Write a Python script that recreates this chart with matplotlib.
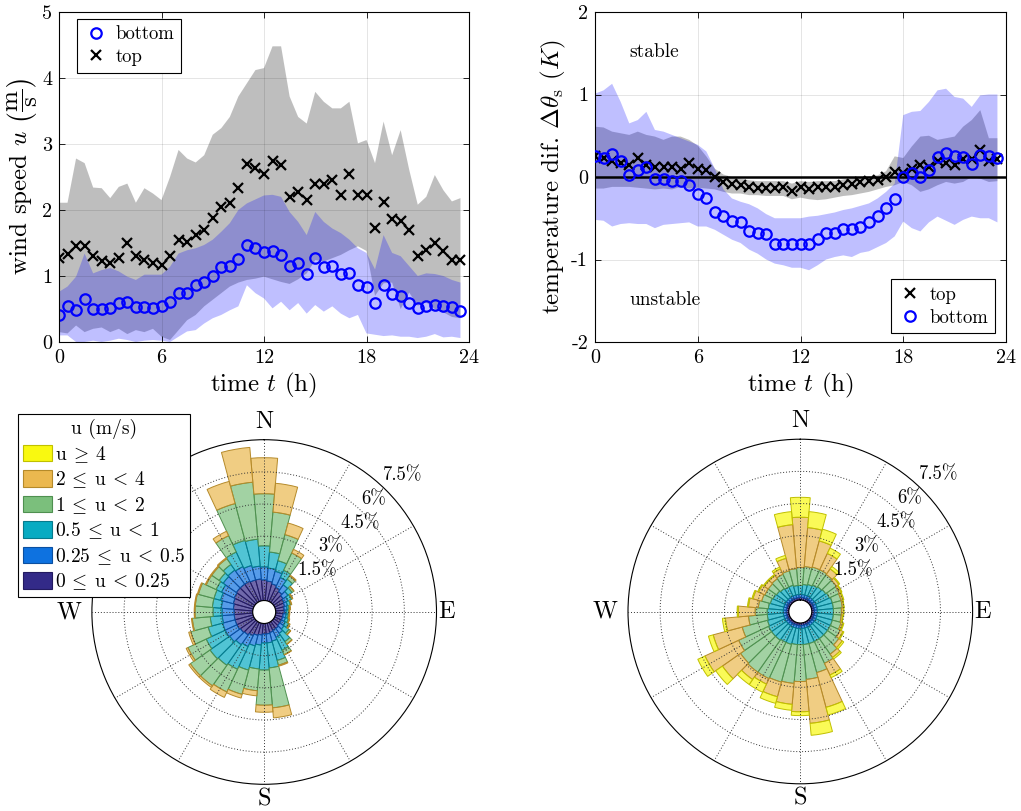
import numpy as np
import matplotlib
matplotlib.use('Agg')
import matplotlib.pyplot as plt
from matplotlib.patches import Patch
from matplotlib.colors import to_rgba

plt.rcParams['font.family'] = 'cmr10'
plt.rcParams['mathtext.fontset'] = 'cm'
plt.rcParams['axes.unicode_minus'] = False

# ---------------- data: diurnal cycle (top-left) ----------------
t = np.arange(0, 24, 0.5)
ws_top = [1.27,1.33,1.45,1.45,1.30,1.22,1.20,1.27,1.50,1.30,1.25,1.20,1.17,1.30,1.55,1.52,
          1.62,1.70,1.88,2.05,2.10,2.33,2.70,2.63,2.55,2.75,2.68,2.20,2.28,2.15,2.40,2.40,
          2.45,2.22,2.55,2.22,2.22,1.72,2.12,1.87,1.83,1.70,1.30,1.40,1.50,1.38,1.25,1.25]
ws_bot = [0.41,0.54,0.49,0.65,0.50,0.50,0.51,0.59,0.61,0.53,0.53,0.51,0.55,0.61,0.74,0.75,
          0.87,0.91,1.00,1.13,1.15,1.26,1.47,1.43,1.37,1.38,1.32,1.15,1.19,1.03,1.27,1.14,
          1.15,1.03,1.05,0.87,0.83,0.59,0.86,0.73,0.70,0.59,0.51,0.54,0.56,0.55,0.53,0.47]
ws_top_hi = [2.11,2.11,2.78,2.71,2.34,2.33,2.18,2.35,2.40,2.11,2.33,2.25,2.15,2.50,2.91,2.78,
             2.72,2.83,3.14,3.24,3.41,3.72,3.92,4.12,4.15,4.48,4.48,3.72,3.41,3.31,3.79,3.64,
             3.54,3.54,3.64,3.01,3.06,2.71,3.34,2.83,3.21,2.61,2.08,2.20,2.53,2.30,2.13,2.18]
ws_top_lo = [0.15,0.13,0.25,0.15,0.20,0.22,0.15,0.20,0.12,0.18,0.15,0.20,0.08,0.03,0.18,0.33,
             0.41,0.54,0.64,0.74,0.84,0.90,0.94,0.96,0.99,0.95,0.91,0.88,0.95,1.04,1.24,1.22,
             1.27,1.32,1.39,1.45,1.38,0.70,0.89,0.90,0.50,0.75,0.55,0.60,0.50,0.45,0.38,0.36]
ws_bot_hi = [0.76,0.84,0.99,1.34,1.04,1.09,1.12,1.07,0.99,0.94,1.02,1.02,1.02,1.14,1.34,1.39,
             1.42,1.47,1.55,1.67,1.80,2.00,2.10,2.16,2.22,2.23,2.20,1.97,1.82,1.62,1.97,1.82,
             1.72,1.65,1.55,1.42,1.35,1.10,1.62,1.35,1.30,1.15,1.00,1.04,1.03,1.00,0.94,0.90]
ws_bot_lo = [0.10,0.10,0.00,0.00,0.02,0.00,0.02,0.05,0.03,0.00,0.02,0.03,0.02,0.00,0.08,0.16,
             0.18,0.28,0.36,0.41,0.48,0.54,0.86,0.74,0.66,0.51,0.61,0.48,0.59,0.43,0.56,0.46,
             0.54,0.43,0.36,0.41,0.13,0.11,0.09,0.10,0.08,0.08,0.06,0.08,0.12,0.07,0.08,0.06]

# ---------------- data: temperature difference (top-right) ----------------
dT_top = [0.25,0.23,0.20,0.17,0.15,0.23,0.15,0.12,0.12,0.12,0.10,0.17,0.10,0.08,0.00,-0.06,
          -0.08,-0.10,-0.12,-0.13,-0.13,-0.13,-0.12,-0.17,-0.125,-0.14,-0.12,-0.125,-0.125,-0.10,-0.08,-0.065,
          -0.05,-0.035,0.00,0.065,0.045,0.10,0.145,0.12,0.19,0.165,0.145,0.22,0.22,0.33,0.20,0.22]
dT_bot = [0.25,0.23,0.28,0.20,0.03,0.08,0.12,-0.03,-0.03,-0.05,-0.05,-0.10,-0.20,-0.26,-0.43,-0.47,
          -0.53,-0.55,-0.66,-0.68,-0.69,-0.81,-0.81,-0.81,-0.81,-0.81,-0.75,-0.68,-0.68,-0.63,-0.63,-0.60,
          -0.54,-0.47,-0.37,-0.27,0.00,0.05,0.00,0.08,0.24,0.29,0.26,0.24,0.16,0.27,0.26,0.23]
dT_top_hi = [0.61,0.60,0.55,0.53,0.51,0.55,0.51,0.49,0.45,0.49,0.49,0.45,0.38,0.25,0.10,0.03,
             0.00,-0.02,-0.04,-0.05,-0.05,-0.05,-0.05,-0.08,-0.05,-0.06,-0.05,-0.05,-0.05,-0.03,-0.01,0.00,
             0.01,0.02,0.07,0.25,0.23,0.37,0.49,0.50,0.45,0.47,0.49,0.61,0.69,0.81,0.47,0.47]
dT_top_lo = [-0.14,-0.14,-0.12,-0.12,-0.12,-0.13,-0.14,-0.15,-0.14,-0.15,-0.12,-0.14,-0.13,-0.14,-0.15,-0.18,
             -0.20,-0.20,-0.22,-0.22,-0.23,-0.23,-0.23,-0.27,-0.25,-0.27,-0.28,-0.27,-0.25,-0.23,-0.22,-0.20,
             -0.18,-0.15,-0.12,-0.10,-0.06,-0.10,-0.18,-0.15,-0.10,-0.06,-0.08,-0.06,0.00,-0.02,-0.06,-0.05]
dT_bot_hi = [1.01,1.05,1.13,0.91,0.65,0.69,0.79,0.57,0.55,0.51,0.47,0.43,0.39,0.31,0.10,-0.15,
             -0.26,-0.30,-0.33,-0.38,-0.45,-0.50,-0.50,-0.50,-0.50,-0.48,-0.47,-0.45,-0.43,-0.40,-0.38,-0.35,
             -0.32,-0.26,-0.18,-0.08,0.75,0.79,0.80,0.91,1.05,1.07,0.97,0.95,0.85,0.99,1.00,1.00]
dT_bot_lo = [-0.52,-0.53,-0.60,-0.57,-0.56,-0.57,-0.57,-0.62,-0.58,-0.57,-0.56,-0.55,-0.60,-0.60,-0.64,-0.70,
             -0.76,-0.80,-0.88,-0.93,-1.00,-1.05,-1.07,-1.10,-1.10,-1.13,-1.07,-1.00,-0.97,-0.95,-0.97,-0.92,
             -0.90,-0.85,-0.80,-0.72,-0.54,-0.62,-0.66,-0.55,-0.48,-0.53,-0.58,-0.52,-0.48,-0.50,-0.50,-0.55]

# ---------------- data: wind roses (cumulative frequency %, 36 sectors from N clockwise) ----------------
directions = np.arange(0, 360, 10)
speed_labels = [r'$0\:\leq\:\mathrm{u}\:<\:0.25$', r'$0.25\:\leq\:\mathrm{u}\:<\:0.5$',
                r'$0.5\:\leq\:\mathrm{u}\:<\:1$', r'$1\:\leq\:\mathrm{u}\:<\:2$',
                r'$2\:\leq\:\mathrm{u}\:<\:4$', r'$\mathrm{u}\:\geq\:4$']
L_c1 = [0.96,0.91,0.82,0.73,0.63,0.54,0.49,0.45,0.40,0.40,0.35,0.35,0.35,0.35,0.40,0.40,0.45,0.49,
        0.49,0.54,0.59,0.68,0.77,0.82,0.87,0.87,0.87,0.87,0.91,0.96,1.01,1.05,1.05,1.05,1.01,1.01]
L_c2 = [1.57,1.52,1.43,1.24,1.01,0.82,0.68,0.59,0.54,0.49,0.49,0.49,0.54,0.59,0.68,0.77,0.87,0.91,
        0.91,1.01,1.10,1.24,1.33,1.43,1.47,1.47,1.43,1.43,1.47,1.57,1.66,1.80,1.85,1.80,1.71,1.61]
L_c3 = [2.55,2.27,1.94,1.61,1.33,1.05,0.87,0.73,0.63,0.59,0.59,0.63,0.73,0.87,1.15,1.43,1.80,2.08,
        2.17,2.13,2.27,2.41,2.50,2.55,2.45,2.17,1.99,1.85,1.89,1.89,1.94,2.03,2.17,2.55,2.92,2.87]
L_c4 = [4.98,4.14,3.20,2.50,1.52,1.15,0.91,0.77,0.68,0.63,0.63,0.68,0.77,0.96,1.29,1.66,2.03,3.95,
        3.81,3.15,3.44,3.58,3.67,3.67,3.39,3.01,2.83,2.69,2.69,2.64,2.45,2.45,2.50,3.39,4.70,5.54]
L_c5 = [6.66,5.49,3.76,2.69,1.57,1.17,0.94,0.80,0.70,0.66,0.66,0.70,0.80,0.98,1.31,1.68,2.08,4.42,
        4.14,3.39,3.62,3.86,3.76,3.76,3.48,3.11,2.87,2.73,2.73,2.69,2.50,2.50,2.55,3.62,5.77,7.17]
L_c6 = [6.66,5.49,3.76,2.69,1.57,1.17,0.94,0.80,0.70,0.66,0.66,0.70,0.80,0.98,1.31,1.68,2.08,4.42,
        4.14,3.39,3.62,3.86,3.76,3.76,3.48,3.11,2.87,2.73,2.73,2.69,2.50,2.50,2.55,3.62,5.77,7.17]

R_c1 = [0.12] * 36
R_c2 = [0.26] * 36
R_c3 = [0.68,0.73,0.77,0.82,0.87,0.91,0.96,1.01,1.01,1.01,1.01,1.01,1.01,1.01,1.01,1.01,1.01,1.01,
        1.01,1.01,1.05,1.05,1.10,1.10,1.10,1.05,1.01,1.01,0.96,0.91,0.87,0.82,0.77,0.73,0.73,0.68]
R_c4 = [1.52,1.57,1.61,1.61,1.57,1.52,1.47,1.43,1.43,1.38,1.38,1.43,1.52,1.66,1.89,2.13,2.41,2.64,
        2.73,2.83,2.87,2.92,2.92,2.87,2.64,2.27,1.89,1.57,1.43,1.33,1.29,1.29,1.33,1.38,1.43,1.47]
R_c5 = [3.86,3.39,2.87,2.45,1.89,1.66,1.57,1.52,1.50,1.47,1.45,1.52,1.66,1.85,2.08,2.73,4.09,4.70,
        4.14,3.81,3.58,3.20,3.34,3.90,4.37,3.67,2.97,2.36,1.89,1.75,1.61,1.52,1.52,1.66,2.03,3.53]
R_c6 = [4.79,4.14,3.44,2.73,2.03,1.71,1.61,1.57,1.52,1.50,1.47,1.57,1.71,1.94,2.17,2.87,4.46,5.26,
        4.32,4.09,3.90,3.62,3.62,4.28,4.74,3.90,3.11,2.41,1.94,1.80,1.66,1.57,1.57,1.75,2.17,4.14]

rose_cols = ['#332a88', '#0e72e0', '#07abc2', '#7bbf7c', '#ebb84f', '#f9f910']
rose_edges = ['#231a60', '#0b4fa0', '#067a8c', '#4f9050', '#b58a2a', '#c0c000']

W, H = 1021, 811
fig = plt.figure(figsize=(W / 100, H / 100), dpi=100)

def style_ts(ax):
    ax.set_xlim(0, 24)
    ax.set_xticks([0, 6, 12, 18, 24])
    ax.set_xticklabels(['0', '6', '12', '18', '24'])
    ax.grid(True, color='k', alpha=0.12, lw=0.6)
    ax.tick_params(direction='in', top=True, right=True, length=4, width=0.6,
                   labelsize=14.5, pad=5)
    for s in ax.spines.values():
        s.set_linewidth(0.8)
    ax.set_xlabel('time $t$ (h)', fontsize=18, labelpad=3)

# ---- top-left ----
ax1 = fig.add_axes([59 / W, 1 - 342 / H, 410 / W, 330 / H])
ax1.fill_between(t, ws_top_lo, ws_top_hi, facecolor='#7f7f7f', alpha=0.5, edgecolor='none')
ax1.fill_between(t, ws_bot_lo, ws_bot_hi, facecolor='#0000ff', alpha=0.25, edgecolor='none')
ax1.plot(t, ws_bot, 'o', mfc='none', mec='#0000ff', ms=7.5, mew=1.6, label='bottom')
ax1.plot(t, ws_top, 'x', color='k', ms=6.5, mew=1.6, label='top')
style_ts(ax1)
ax1.set_ylim(0, 5)
ax1.set_yticks([0, 1, 2, 3, 4, 5])
ax1.set_yticklabels(['0', '1', '2', '3', '4', '5'])
ax1.set_ylabel(r'wind speed $u$ $\left(\dfrac{\mathrm{m}}{\mathrm{s}}\right)$', fontsize=18, labelpad=2)
leg1 = ax1.legend(loc='upper left', bbox_to_anchor=(0.044, 0.979), borderaxespad=0,
                  fancybox=False, edgecolor='k', framealpha=1, fontsize=13.5,
                  handletextpad=0.4, borderpad=0.35, labelspacing=0.25, handlelength=1.3)
leg1.get_frame().set_linewidth(0.8)

# ---- top-right ----
ax2 = fig.add_axes([595 / W, 1 - 342 / H, 411 / W, 330 / H])
ax2.fill_between(t, dT_top_lo, dT_top_hi, facecolor='#7f7f7f', alpha=0.5, edgecolor='none')
ax2.fill_between(t, dT_bot_lo, dT_bot_hi, facecolor='#0000ff', alpha=0.25, edgecolor='none')
ax2.axhline(0, color='k', lw=1.8, zorder=1.8)
ax2.plot(t, dT_top, 'x', color='k', ms=6.5, mew=1.6, label='top', zorder=3)
ax2.plot(t, dT_bot, 'o', mfc='none', mec='#0000ff', ms=7.5, mew=1.6, label='bottom', zorder=3)
style_ts(ax2)
ax2.set_ylim(-2, 2)
ax2.set_yticks([-2, -1, 0, 1, 2])
ax2.set_yticklabels(['-2', '-1', '0', '1', '2'])
ax2.set_ylabel(r'temperature dif. $\Delta\theta_{\mathrm{s}}$ $(K)$', fontsize=18, labelpad=2)
ax2.text(2.0, 1.52, 'stable', ha='left', va='center', fontsize=14)
ax2.text(2.0, -1.49, 'unstable', ha='left', va='center', fontsize=14)
leg2 = ax2.legend(loc='lower right', bbox_to_anchor=(0.973, 0.027), borderaxespad=0,
                  fancybox=False, edgecolor='k', framealpha=1, fontsize=13.5,
                  handletextpad=0.4, borderpad=0.35, labelspacing=0.25, handlelength=1.3)
leg2.get_frame().set_linewidth(0.8)

# ---- wind roses ----
rmax = 7.5
theta = np.deg2rad(directions)
width = np.deg2rad(10)

def rose(ax, cums):
    ax.set_theta_zero_location('N')
    ax.set_theta_direction(-1)
    prev = np.zeros(len(directions))
    for k, c in enumerate(cums):
        c = np.asarray(c, dtype=float)
        h = c - prev
        m = h > 1e-6
        if m.any():
            ax.bar(theta[m], h[m], width=width, bottom=prev[m], align='center',
                   facecolor=to_rgba(rose_cols[k], 0.7), edgecolor=rose_edges[k], linewidth=0.7)
        prev = c
    ax.set_ylim(0, rmax)
    ax.set_rorigin(-rmax / 14)
    ax.set_rgrids([1.5, 3, 4.5, 6], labels=[])
    ax.set_thetagrids(range(0, 360, 30), labels=[])
    ax.grid(True, color='#333333', linestyle=(0, (1, 2)), lw=0.7)
    ax.spines['polar'].set_linewidth(0.8)
    ax.spines['inner'].set_visible(False)
    for v, s in zip([1.5, 3, 4.5, 6, 7.5], ['1.5%', '3%', '4.5%', '6%', '7.5%']):
        ax.text(np.deg2rad(42), v + 0.25, s, ha='left', va='baseline', fontsize=13.5)
    ax.text(0, 8.06, 'N', ha='center', va='baseline', fontsize=17.5)
    ax.text(np.pi, 7.69, 'S', ha='center', va='top', fontsize=17.5)
    ax.text(np.pi / 2, 7.57, 'E', ha='left', va='center', fontsize=17.5)
    ax.text(3 * np.pi / 2, 8.0, 'W', ha='right', va='center', fontsize=17.5)

R = 344.6
axL = fig.add_axes([(264.2 - R / 2) / W, 1 - (612 + R / 2) / H, R / W, R / H], projection='polar')
rose(axL, [L_c1, L_c2, L_c3, L_c4, L_c5, L_c6])
axR = fig.add_axes([(800.3 - R / 2) / W, 1 - (611.5 + R / 2) / H, R / W, R / H], projection='polar')
rose(axR, [R_c1, R_c2, R_c3, R_c4, R_c5, R_c6])

handles = [Patch(facecolor=rose_cols[k], edgecolor=rose_edges[k], lw=0.8) for k in range(5, -1, -1)]
labels = [speed_labels[k] for k in range(5, -1, -1)]
legR = fig.legend(handles, labels, loc='upper left', bbox_to_anchor=(18 / W, 1 - 414 / H),
                  bbox_transform=fig.transFigure, title='u (m/s)', title_fontsize=14,
                  fontsize=14, fancybox=False, edgecolor='k', framealpha=1,
                  handlelength=1.5, handleheight=0.95, handletextpad=0.15,
                  labelspacing=0.25, borderpad=0.25, borderaxespad=0)
legR.get_frame().set_linewidth(0.8)

fig.savefig('out.png', dpi=100)
